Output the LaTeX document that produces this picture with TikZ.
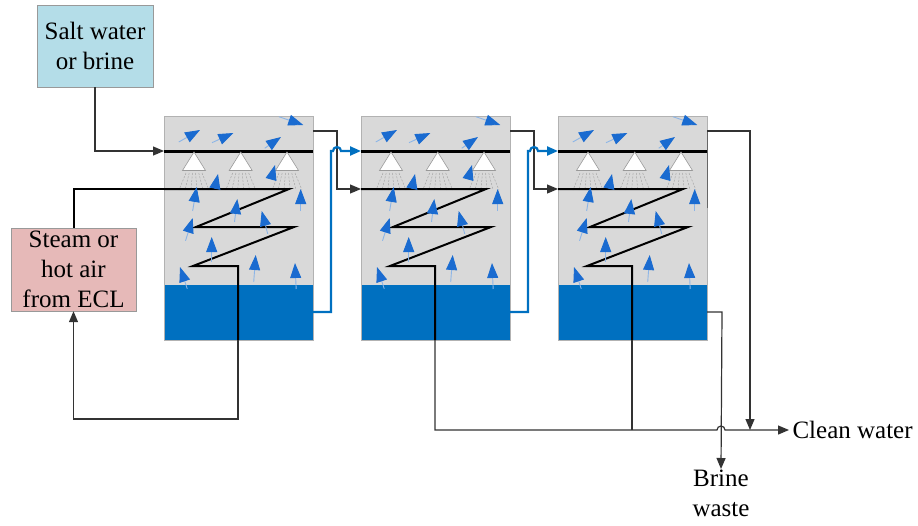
\documentclass[tikz,border=0pt]{standalone}
\usepackage{fontspec}
\setmainfont{Liberation Serif}
\usetikzlibrary{arrows.meta}

\definecolor{tankgray}{HTML}{D9D9D9}
\definecolor{water}{HTML}{0070C0}
\definecolor{vapour}{HTML}{1A6BD0}
\definecolor{saltfill}{HTML}{B4DDE8}
\definecolor{steamfill}{HTML}{E6B9B8}

\tikzset{
  txt/.style    = {font=\fontsize{25}{30}\selectfont, align=center},
  box/.style    = {txt, draw=black!40, inner sep=0pt},
  pipe/.style   = {black!80, line width=1.2},
  coil/.style   = {black, line width=2},
  feed/.style   = {water, line width=2.2},
  flow/.style   = {-{Triangle[length=11pt, width=9pt]}},
  vap/.style    = {draw=vapour!50, line width=0.9, shorten <=-4pt, -{Triangle[length=15pt, width=11pt, color=vapour]}},
  jet/.style    = {black!35, dash pattern=on 2pt off 1.5pt, line width=0.5},
  nozzle/.style = {draw=black!40, fill=white, line width=0.6},
}

\begin{document}
\begin{tikzpicture}[x=1pt, y=-1pt]
    \useasboundingbox (0, 0) rectangle (918, 525);

    % inlet and heat source
    \node [box, fill=saltfill, minimum width=116pt, minimum height=82pt]  (salt)  at (95, 46)    {Salt water\\or brine};
    \node [box, fill=steamfill, minimum width=125pt, minimum height=83pt] (steam) at (73.5, 269.5) {Steam or\\hot air\\from ECL};

    % tanks
    \foreach \i/\x in {1/164, 2/361, 3/558} {
      \coordinate (t\i-spray) at (\x, 151);
      \coordinate (t\i-coil)  at (\x, 189);
      \coordinate (t\i-out)   at ({\x+149}, 131);
      \coordinate (t\i-drain) at ({\x+149}, 312);
      \coordinate (t\i-bot)   at ({\x+74}, 340);
      % shell and water
      \fill [tankgray] (\x, 116) rectangle ++(149, 224);
      \fill [water]    (\x, 285) rectangle ++(149, 55);
      \draw [black!30] (\x, 116) rectangle ++(149, 224);
      % sprays
      \foreach \n in {30, 76.7, 123} {
        \foreach \k in {-2.5, -1.5, -0.5, 0.5, 1.5, 2.5}
          \draw [jet] ({\x+\n+\k*3.2}, 173) -- ({\x+\n+\k*6}, 190);
      }
      % heating coil
      \draw [coil] (t\i-coil) -- ({\x+125}, 189) -- ({\x+32}, 227) -- ({\x+130}, 227)
                   -- ({\x+29}, 266) -- ({\x+74}, 266) -- (t\i-bot);
      % spray pipe and nozzles
      \draw [line width=3] (t\i-spray) -- ++(149, 0);
      \foreach \n in {30, 76.7, 123}
        \draw [nozzle] ({\x+\n}, 152) -- ({\x+\n-11.5}, 170.5) -- ({\x+\n+11.5}, 170.5) -- cycle;
      % vapour
      \foreach \a/\b/\c/\d in {118.7/118/139.3/125, 18.3/140/36/130, 51.7/141/69.3/133,
                               104/146/117/137, 107.7/177/111/165, 51/188/54/174,
                               29.3/207/32.7/187, 136.7/207/136.7/189, 71/218/73.3/199,
                               102.7/230/97.7/211, 22.7/237/28.7/218, 47.7/258/47.7/237,
                               90/278/91.7/255, 22/285/16/267, 132/285/131/263}
        \draw [vap] ({\x+\a}, \b) -- ({\x+\c}, \d);
    }

    % outlet labels
    \node [txt, anchor=west]                  (clean) at (789, 430) {Clean water};
    \node [txt, anchor=north, inner sep=1pt]  (brine) at (721, 469) {Brine\\waste};
    \coordinate (hop)  at (721, 430);
    \coordinate (join) at (750, 430);

    % feed into tank 1
    \draw [pipe, flow] (salt.south) |- (t1-spray);
    \draw [coil]       (steam.north) |- (t1-coil);
    \draw [pipe, flow] (t1-bot) -- ++(0, 79) -| (steam.south);

    % tank to tank
    \foreach \a/\b in {1/2, 2/3} {
      \draw [pipe, flow] (t\a-out) -- ++(24, 0) |- (t\b-coil);
      \draw [feed, flow] (t\a-drain) -- ++(18, 0) -- ++(0, -161) -- ++(2, 0)
                         arc [start angle=180, end angle=0, radius=4pt] -- (t\b-spray);
    }

    % products
    \draw [pipe, flow] (t2-bot) |- ([xshift=-4pt]hop) arc [start angle=180, end angle=0, radius=4pt] -- (clean.west);
    \draw [pipe]       (t3-bot) -- (t3-bot |- hop);
    \draw [black!60, line width=1] ([yshift=-77pt]t3-out) -- (t3-out);
    \draw [pipe, flow] (t3-out) -| (join);
    \draw [pipe, flow] (t3-drain) -- ++(15, 0) -- (brine.north);
\end{tikzpicture}
\end{document}
